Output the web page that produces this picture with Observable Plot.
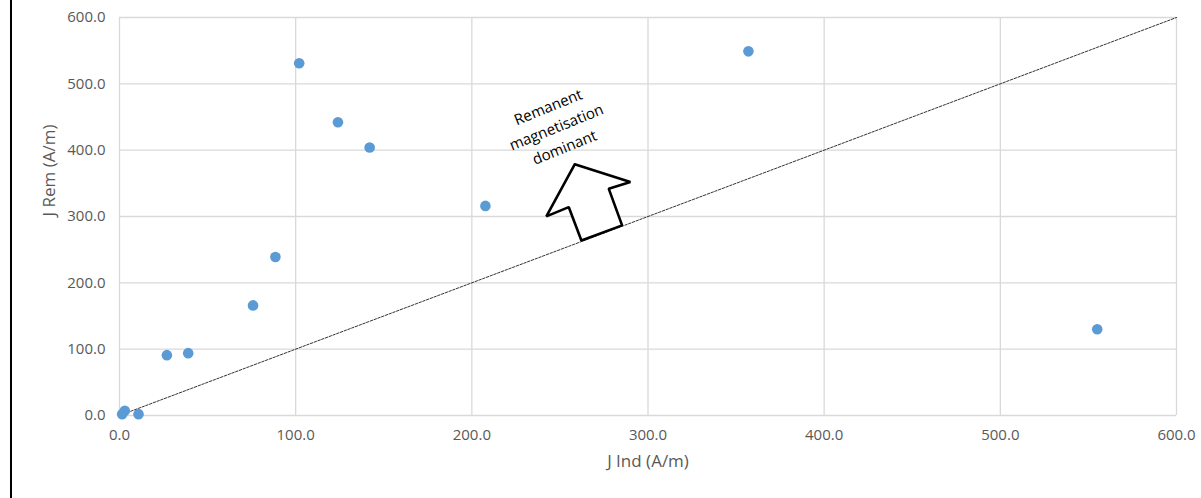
<!DOCTYPE html>
<html><head><meta charset="utf-8">
<script src="https://cdn.jsdelivr.net/npm/d3@7"></script>
<script src="https://cdn.jsdelivr.net/npm/@observablehq/plot@0.6"></script>
<style>
html,body{margin:0;padding:0;background:#fff;}
#wrap{position:relative;width:1201px;height:498px;}
#edge{position:absolute;left:10px;top:0;width:2px;height:498px;background:#000;}
</style>
</head><body>
<div id="wrap"><div id="edge"></div><div id="chart"></div></div>
<script>
// Data
const jInd = [1.5, 3, 10.8, 26.9, 39, 75.8, 88.5, 102, 124, 142, 207.7, 357, 555];
const jRem = [2, 7, 2, 91, 94, 166, 239, 531, 442, 404, 316, 549, 130];
const ticks = [0, 100, 200, 300, 400, 500, 600];
const refX = [0, 600];
const refY = [0, 600];
const arrowX = [258.4, 290.0, 277.7, 285.3, 262.2, 255.0, 242.3, 258.4];
const arrowY = [378.7, 352.0, 342.0, 286.6, 263.9, 314.2, 300.2, 378.7];
const labelText = ["Remanent\nmagnetisation\ndominant"];
const labelX = [247.6];
const labelY = [437];

const pts = jInd.map((x, i) => ({x, y: jRem[i]}));
const ref = refX.map((x, i) => ({x, y: refY[i]}));
const arrow = arrowX.map((x, i) => ({x, y: arrowY[i]}));
const labels = labelText.map((t, i) => ({t, x: labelX[i], y: labelY[i]}));

const gray = "#595959";
const font = "'Open Sans', 'Liberation Sans', sans-serif";
const chart = Plot.plot({
  width: 1201, height: 498,
  marginLeft: 119, marginRight: 25, marginTop: 17, marginBottom: 83,
  style: {fontFamily: font, fontSize: "15px", color: gray, background: "transparent"},
  x: {domain: [0, 600], label: null},
  y: {domain: [0, 600], label: null},
  marks: [
    Plot.gridX(ticks, {stroke: "#d9d9d9", strokeOpacity: 1, strokeWidth: 1.3}),
    Plot.gridY(ticks, {stroke: "#d9d9d9", strokeOpacity: 1, strokeWidth: 1.3}),
    Plot.axisX({ticks, tickFormat: d3.format(".1f"), tickSize: 0, tickPadding: 14, fill: gray, fontSize: 15, label: null}),
    Plot.axisY({ticks, tickFormat: d3.format(".1f"), tickSize: 0, tickPadding: 14, fill: gray, fontSize: 15, label: null}),
    Plot.line(ref, {x: "x", y: "y", stroke: "#333", strokeWidth: 1, strokeDasharray: "2.5,1.5"}),
    Plot.line(arrow, {x: "x", y: "y", stroke: "#000", strokeWidth: 2.6, fill: "#fff", strokeLinejoin: "miter", curve: "linear"}),
    Plot.text(labels, {x: "x", y: "y", text: "t", rotate: -22, fontSize: 15, lineHeight: 1.45, fill: "#000", fontFamily: font}),
    Plot.dot(pts, {x: "x", y: "y", r: 5.3, fill: "#5b9bd5", stroke: "none"}),
    Plot.text(["J Ind (A/m)"], {frameAnchor: "bottom", dy: 51, fill: gray, fontSize: 17}),
    Plot.text(["J Rem (A/m)"], {frameAnchor: "left", dx: -70, rotate: -90, fill: gray, fontSize: 17})
  ]
});
document.getElementById("chart").appendChild(chart);
</script>
</body></html>
